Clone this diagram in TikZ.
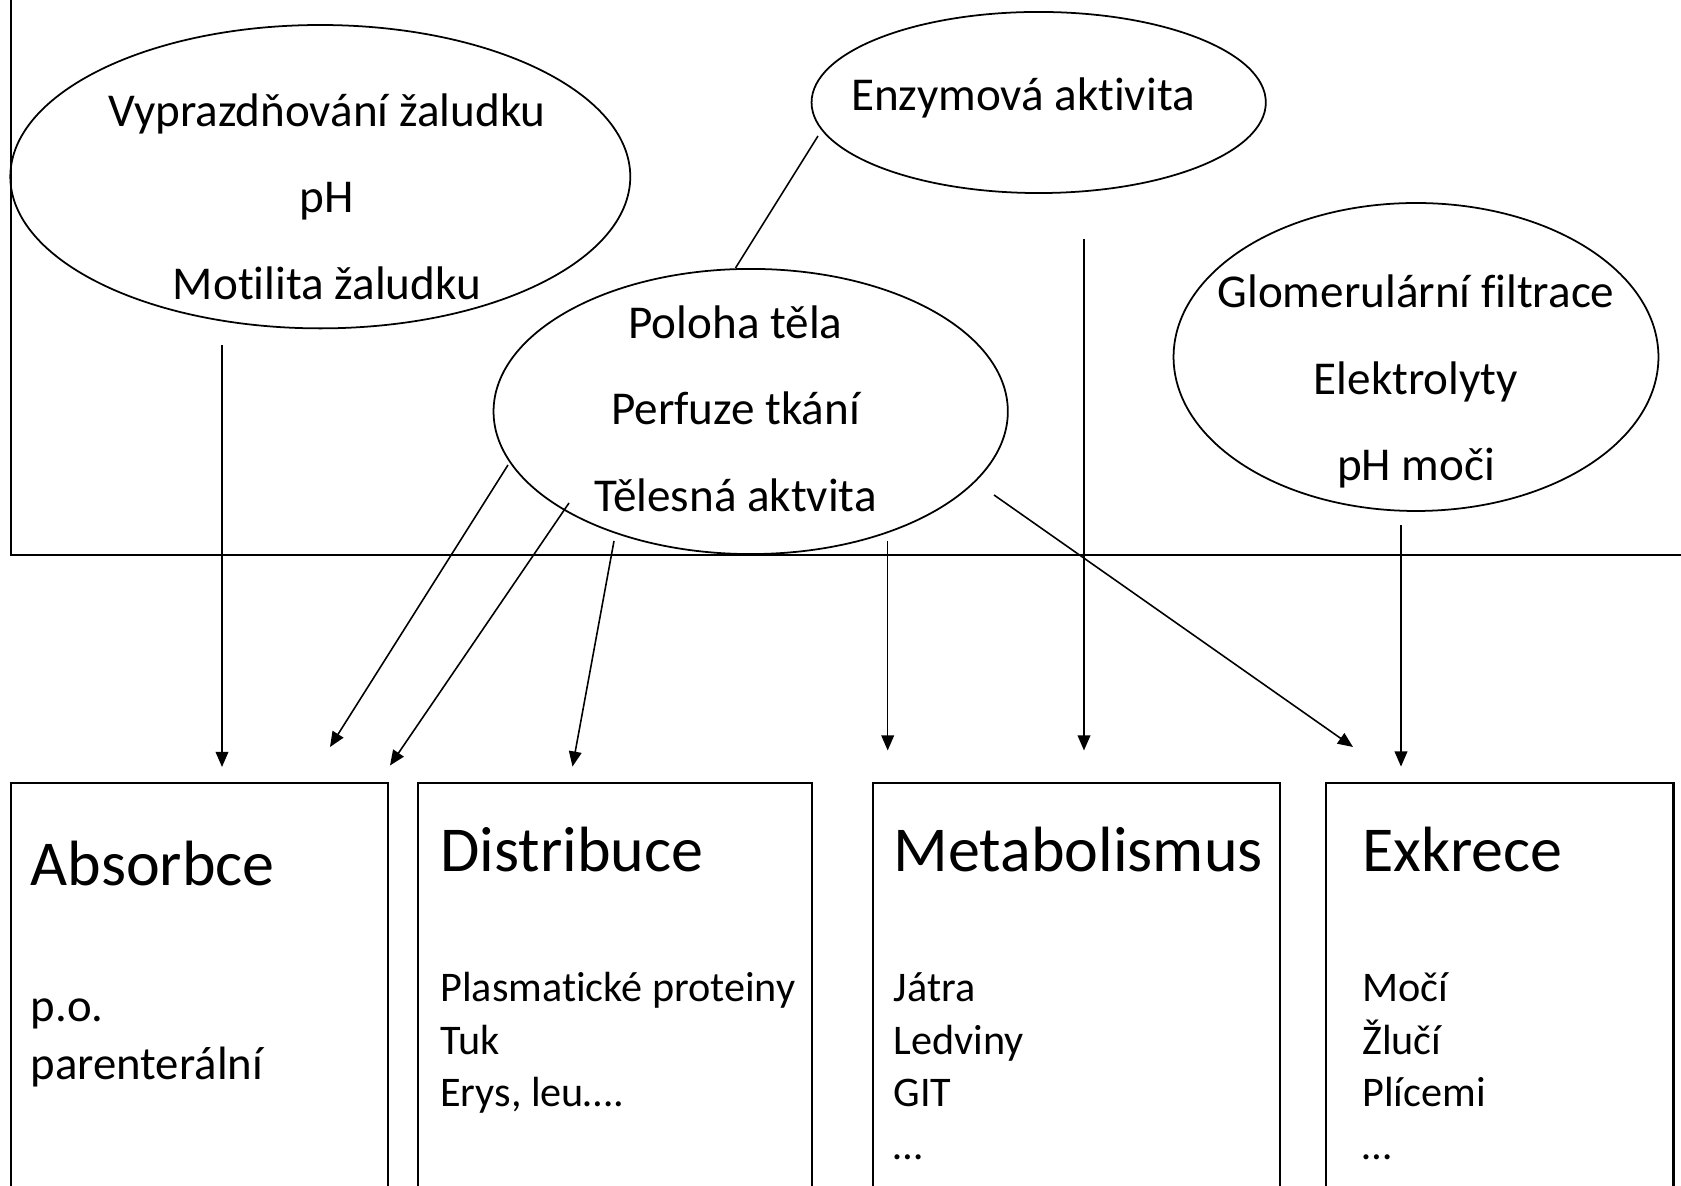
\documentclass[tikz,border=0pt]{standalone}
\usepackage{fontspec}
\setmainfont{Carlito}[Ligatures=NoCommon]
\usetikzlibrary{arrows.meta,shapes.geometric}
\begin{document}
\begin{tikzpicture}[x=0.01cm,y=-0.01cm,
  ell/.style={draw,ellipse,inner sep=0pt,line width=0.5pt},
  etxt/.style={anchor=base,font=\fontsize{13.4}{16}\selectfont,inner sep=0pt},
  head/.style={anchor=base west,font=\fontsize{18.2}{22}\selectfont,inner sep=0pt},
  btxt/.style={anchor=base west,font=\fontsize{12}{14}\selectfont,inner sep=0pt},
  btxtb/.style={anchor=base west,font=\fontsize{13.3}{16}\selectfont,inner sep=0pt},
  arr/.style={-{Triangle[length=4.3pt,width=3.6pt]},line width=0.45pt},
  plain/.style={line width=0.45pt},
  frame/.style={line width=0.6pt}]
\useasboundingbox (0,0) rectangle (1681,1186);

% upper frame
\draw[frame] (10.7,-5) -- (10.7,555) -- (1690,555);

% ellipses
\node[ell,minimum width=6.196cm,minimum height=3.032cm] (e1) at (320.3,176.7) {};
\node[ell,minimum width=4.54cm,minimum height=1.81cm] (e2) at (1038.7,102.5) {};
\node[ell,minimum width=5.14cm,minimum height=2.85cm] (e3) at (750.7,411.5) {};
\node[ell,minimum width=4.846cm,minimum height=3.078cm] (e4) at (1416,357) {};

% ellipse texts
\node[etxt] (t11) at (327,127) {Vyprazdňování žaludku};
\node[etxt] (t12) at (327,213) {pH};
\node[etxt] (t13) at (327,299.5) {Motilita žaludku};
\node[etxt] (t21) at (1023,111) {Enzymová aktivita};
\node[etxt] (t31) at (735.5,338.5) {Poloha těla};
\node[etxt] (t32) at (735.5,424.3) {Perfuze tkání};
\node[etxt] (t33) at (735.5,511.2) {Tělesná aktvita};
\node[etxt] (t41) at (1416,307.7) {Glomerulární filtrace};
\node[etxt] (t42) at (1416,394.5) {Elektrolyty};
\node[etxt] (t43) at (1416,480.3) {pH moči};

% boxes (open at the bottom edge)
\draw[frame] (10.7,1195) |- (388,782.6) -- (388,1195);
\draw[frame] (418,1195) |- (811.6,782.6) -- (811.6,1195);
\draw[frame] (872.7,1195) |- (1280,782.6) -- (1280,1195);
\draw[frame] (1326,1195) |- (1673.5,782.6) -- (1673.5,1195);

% box texts
\node[head] (h1) at (30,885.6) {Absorbce};
\node[btxtb] (b11) at (30,1021.7) {p.o.};
\node[btxtb] (b12) at (30,1079.6) {parenterální};

\node[head] (h2) at (439.6,871.6) {Distribuce};
\node[btxt] (b21) at (439.6,1002) {Plasmatické proteiny};
\node[btxt] (b22) at (439.6,1054.4) {Tuk};
\node[btxt] (b23) at (439.6,1107) {Erys, leu….};

\node[head] (h3) at (893,871.6) {Metabolismus};
\node[btxt] (b31) at (893,1002) {Játra};
\node[btxt] (b32) at (893,1054.4) {Ledviny};
\node[btxt] (b33) at (893,1107) {GIT};
\node[btxt] (b34) at (893,1159.5) {…};

\node[head] (h4) at (1361.6,871.6) {Exkrece};
\node[btxt] (b41) at (1361.6,1002) {Močí};
\node[btxt] (b42) at (1361.6,1054.4) {Žlučí};
\node[btxt] (b43) at (1361.6,1107) {Plícemi};
\node[btxt] (b44) at (1361.6,1159.5) {…};

% connector end points
\coordinate (a1s) at (222,345);   \coordinate (a1e) at (222,767);
\coordinate (a2s) at (508,465);   \coordinate (a2e) at (330,747);
\coordinate (a3s) at (569,503);   \coordinate (a3e) at (390,765.5);
\coordinate (a4s) at (614,541);   \coordinate (a4e) at (572.5,766.6);
\coordinate (a5s) at (887.7,541); \coordinate (a5e) at (887.7,750.5);
\coordinate (a6s) at (1084,239);  \coordinate (a6e) at (1084,750.5);
\coordinate (a7s) at (994,495);   \coordinate (a7e) at (1353,747);
\coordinate (a8s) at (1401,525);  \coordinate (a8e) at (1401,766.6);
\coordinate (l1s) at (818,136);   \coordinate (l1e) at (735.5,268);

\draw[arr] (a1s) -- (a1e);
\draw[arr] (a2s) -- (a2e);
\draw[arr] (a3s) -- (a3e);
\draw[arr] (a4s) -- (a4e);
\draw[arr] (a5s) -- (a5e);
\draw[arr] (a6s) -- (a6e);
\draw[arr] (a7s) -- (a7e);
\draw[arr] (a8s) -- (a8e);
\draw[plain] (l1s) -- (l1e);
\end{tikzpicture}
\end{document}
